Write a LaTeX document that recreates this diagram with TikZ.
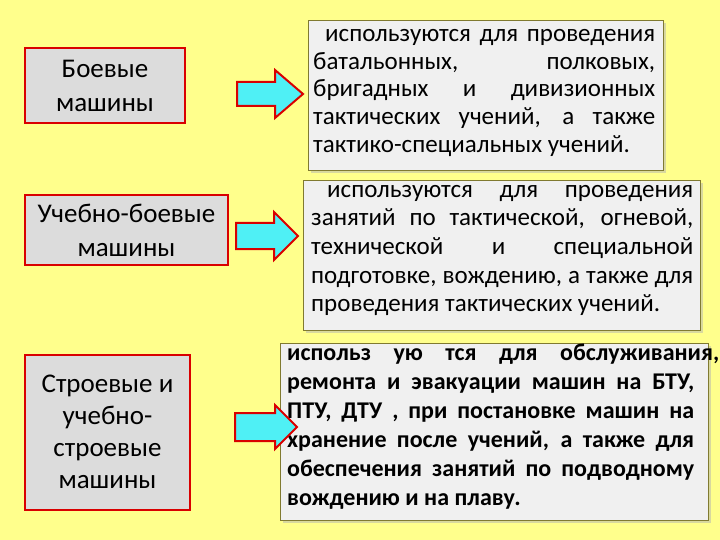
\documentclass[tikz,border=0pt]{standalone}
\usepackage{fontspec}
\setmainfont{Carlito}
\usetikzlibrary{shadows}
\definecolor{bg}{HTML}{FFFF8C}
\definecolor{boxg}{HTML}{DCDCDC}
\definecolor{rboxg}{HTML}{F0F0F0}
\definecolor{arr}{HTML}{4FF0F5}
\definecolor{bord}{HTML}{807A30}
\tikzset{
 lbox/.style={draw=red!85!black,line width=2pt,fill=boxg,align=center,font=\fontsize{27}{34}\selectfont,inner sep=0pt},
 rbox/.style={draw=bord,line width=0.6pt,fill=rboxg,inner sep=0pt,drop shadow={shadow xshift=3pt,shadow yshift=-3pt,fill=gray!60}},
 barrow/.style={draw=red!85!black,line width=2pt,fill=arr,line join=miter},
 rtxt/.style={anchor=north west,align=left,inner sep=0pt,font=\fontsize{25}{27.7}\selectfont}
}
\newcommand{\jl}[2]{\makebox[#1][s]{#2}}
\newcommand{\barr}[7]{% x0 xh xt ycenter halfshaft halfhead name
 \draw[barrow] (#1,#4-#5) -- (#2,#4-#5) -- (#2,#4-#6) -- (#3,#4) -- (#2,#4+#6) -- (#2,#4+#5) -- (#1,#4+#5) -- cycle;
 \coordinate (#7) at (#3,#4);}
\begin{document}
\begin{tikzpicture}[x=1pt,y=-1pt]
\fill[bg] (0,0) rectangle (720,540);
\useasboundingbox (0,0) rectangle (720,540);
% left boxes
\node[lbox,minimum width=160,minimum height=75] (l1) at (105,86) {Боевые\\машины};
\node[lbox,minimum width=203,minimum height=70] (l2) at (126.5,230) {Учебно-боевые\\машины};
\node[lbox,minimum width=165,minimum height=155,font=\fontsize{27}{32}\selectfont] (l3) at (107.5,432) {Строевые и\\учебно-\\строевые\\машины};
% right boxes
\node[rbox,minimum width=355,minimum height=150] (r1) at (485.5,95) {};
\node[rbox,minimum width=397,minimum height=150] (r2) at (501.5,255) {};
\node[rbox,minimum width=428,minimum height=177] (r3) at (494,431.5) {};
\node[rtxt] (t1) at (313,29) {\hspace*{12pt}\jl{330pt}{используются для проведения}\\
\jl{342pt}{батальонных, полковых,}\\
\jl{342pt}{бригадных и дивизионных}\\
\jl{342pt}{тактических учений, а также}\\
тактико-специальных учений.};
\node[rtxt,font=\fontsize{25}{28.6}\selectfont] (t2) at (311,185) {\hspace*{16pt}\jl{366pt}{используются для проведения}\\
\jl{382pt}{занятий по тактической, огневой,}\\
\jl{382pt}{технической и специальной}\\
\jl{382pt}{подготовке, вождению, а также для}\\
проведения тактических учений.};
\node[rtxt,font=\bfseries\fontsize{24}{29}\selectfont] (t3) at (287,344) {\jl{432pt}{использ ую тся для обслуживания,}\\
\jl{407pt}{ремонта и эвакуации машин на БТУ,}\\
\jl{407pt}{ПТУ, ДТУ , при постановке машин на}\\
\jl{407pt}{хранение после учений, а также для}\\
\jl{407pt}{обеспечения занятий по подводному}\\
вождению и на плаву.};
% arrows
\barr{237}{275}{303}{94}{12}{24}{a1}
\barr{236}{274}{298}{236}{13}{24}{a2}
\barr{235}{275}{297}{427}{14}{22}{a3}
\end{tikzpicture}
\end{document}
